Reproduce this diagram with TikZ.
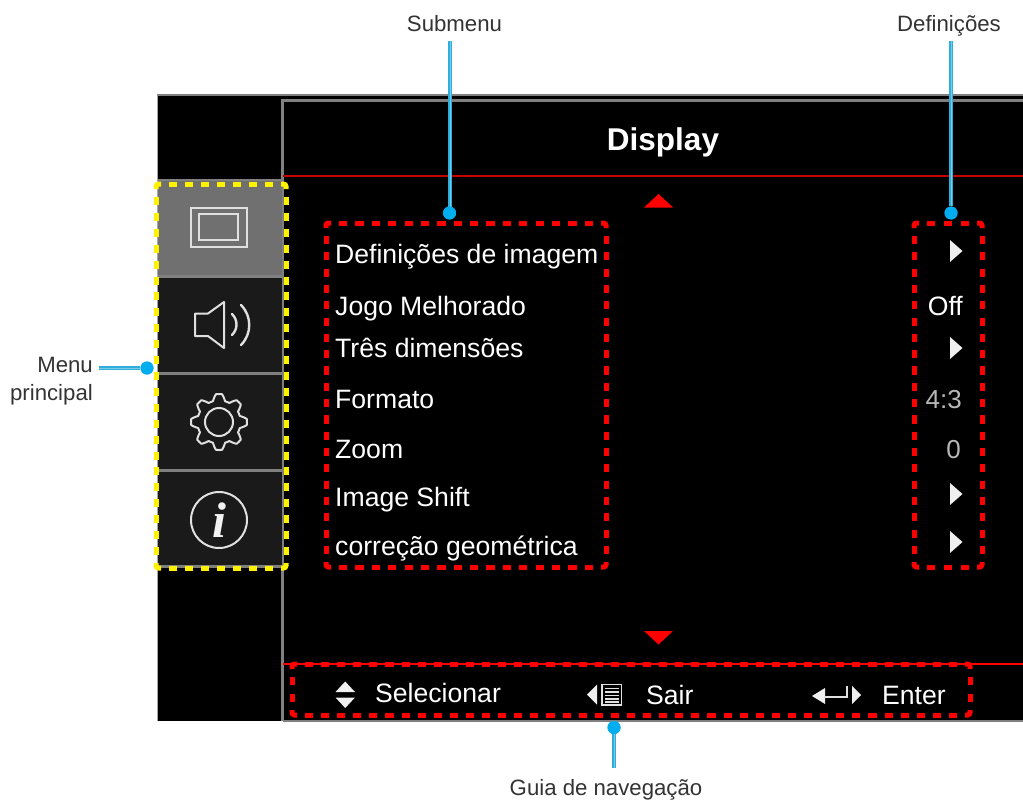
\documentclass[tikz,border=0pt]{standalone}
\usepackage{fontspec}
\setmainfont{Liberation Sans}
\newfontfamily\iserif{Liberation Serif}
\usetikzlibrary{calc}
\definecolor{callout}{HTML}{00AEEF}
\definecolor{leader}{HTML}{2FAEDC}
\definecolor{framegray}{HTML}{808080}
\definecolor{tabgray}{HTML}{707070}
\definecolor{tabdark}{HTML}{1A1A1A}
\definecolor{labelgray}{HTML}{333333}
\tikzset{
 x=1pt,y=-1pt,
 dot/.style={circle,fill=callout,inner sep=0pt,minimum size=13pt},
 leaderline/.style={draw=leader,line width=3.6pt},
 leadercore/.style={draw=white!35!leader,line width=1pt},
 callouttext/.style={text=labelgray,font=\fontsize{22.2}{27}\selectfont,inner sep=0pt},
 menutext/.style={text=white,font=\fontsize{26.6}{30}\selectfont,inner sep=0pt,anchor=base west},
 valtext/.style={text=white,font=\fontsize{26.6}{30}\selectfont,inner sep=0pt,anchor=base east},
 thintext/.style={text=white!72!black,font=\fontsize{26}{30}\selectfont,inner sep=0pt,anchor=base east},
 icon/.style={draw=white!88!black,line width=2pt},
 wtri/.style={fill=white!94!black},
 rtri/.style={fill=red},
 tabsep/.style={draw=framegray,line width=3pt},
}
% dashed frame: colour, x0, y0, x1, y1
\newcommand{\dashframe}[5]{%
 \draw[#1,line width=5pt,rounded corners=2.5pt] (#2,#3+5) -- (#2,#3) -- (#2+5,#3);
 \draw[#1,line width=5pt,rounded corners=2.5pt] (#4-5,#3) -- (#4,#3) -- (#4,#3+5);
 \draw[#1,line width=5pt,rounded corners=2.5pt] (#2,#5-5) -- (#2,#5) -- (#2+5,#5);
 \draw[#1,line width=5pt,rounded corners=2.5pt] (#4-5,#5) -- (#4,#5) -- (#4,#5-5);
 \pgfmathsetmacro{\lh}{#4-#2-26}
 \pgfmathsetmacro{\lv}{#5-#3-26}
 \pgfmathsetmacro{\onh}{\lh/(2*round((\lh+8)/16)-1)}
 \pgfmathsetmacro{\onv}{\lv/(2*round((\lv+8)/16)-1)}
 \draw[#1,line width=5pt,dash pattern=on \onh pt off \onh pt] (#2+13,#3) -- (#4-13,#3);
 \draw[#1,line width=5pt,dash pattern=on \onh pt off \onh pt] (#2+13,#5) -- (#4-13,#5);
 \draw[#1,line width=5pt,dash pattern=on \onv pt off \onv pt] (#2,#3+13) -- (#2,#5-13);
 \draw[#1,line width=5pt,dash pattern=on \onv pt off \onv pt] (#4,#3+13) -- (#4,#5-13);
}
\begin{document}
\begin{tikzpicture}
\useasboundingbox (0,0) rectangle (1023,800);
\fill[white] (0,0) rectangle (1023,800);
% panel
\fill[black] (157,95) rectangle (1023,721);
\draw[framegray,line width=1.6pt] (157,95) -- (1023,95);
\draw[black!35,line width=0.8pt] (157,721) -- (157,95);
\draw[framegray,line width=2.4pt] (282.5,721) -- (282.5,100.5) -- (1023,100.5);
\draw[red!78!black,line width=2.4pt] (283,176) -- (1023,176);
\draw[red,line width=2pt] (283,664) -- (1023,664);
\draw[framegray,line width=1.2pt] (283,721) -- (1023,721);
% tabs
\fill[tabgray] (158,180) rectangle (283,276);
\fill[tabdark] (158,276) rectangle (283,567);
\draw[framegray,line width=2pt] (158,180) -- (283,180);
\draw[tabsep] (158,276) -- (283,276);
\draw[tabsep] (158,373) -- (283,373);
\draw[tabsep] (158,470) -- (283,470);
\draw[tabsep] (158,566.5) -- (283,566.5);
\draw[framegray,line width=2pt] (282.5,180) -- (282.5,567);
% display icon
\draw[icon] (191,208) rectangle (247,247);
\draw[icon] (199,214) rectangle (238,240);
% speaker icon
\draw[icon,line join=round] (195,313.5) -- (208,313.5) -- (224,302) -- (224,348) -- (208,336) -- (195,336) -- cycle;
\draw[icon,line width=2.4pt,line cap=round] (232,314) .. controls (238,320) and (238,329) .. (232,335);
\draw[icon,line width=2.4pt,line cap=round] (241,305) .. controls (252,316) and (252,334) .. (241,345);
% gear icon
\draw[icon,line join=round] plot[domain=0:360,samples=241,smooth] ({219+(24.8+3.2*max(-1,min(1,1.5*cos(8*\x))))*cos(\x)},{422+(24.8+3.2*max(-1,min(1,1.5*cos(8*\x))))*sin(\x)}) -- cycle;
\draw[icon] (219,422) circle[radius=14];
% info icon
\draw[icon] (219,520) circle[radius=28];
\node[text=white!95!black,font=\iserif\bfseries\itshape\fontsize{50}{50}\selectfont,inner sep=0pt,anchor=base] (infoi) at (219,537) {i};
% title
\node[text=white,font=\bfseries\fontsize{31.5}{36}\selectfont,inner sep=0pt,anchor=base] (title) at (663,150) {Display};
% arrows
\fill[rtri] (644,207.5) -- (673,207.5) -- (658.5,194) -- cycle;
\fill[rtri] (644,631) -- (673,631) -- (658.5,644.5) -- cycle;
% submenu
\node[menutext] (m1) at (335,263) {Definições de imagem};
\node[menutext] (m2) at (335,315) {Jogo Melhorado};
\node[menutext] (m3) at (335,357) {Três dimensões};
\node[menutext] (m4) at (335,408) {Formato};
\node[menutext] (m5) at (335,458) {Zoom};
\node[menutext] (m6) at (335,506) {Image Shift};
\node[menutext] (m7) at (335,555) {correção geométrica};
% values
\fill[wtri] (950,240) -- (962.5,251) -- (950,262) -- cycle;
\node[valtext] (v2) at (963,315) {Off};
\fill[wtri] (950,337) -- (962.5,348) -- (950,359) -- cycle;
\node[thintext] (v4) at (962,408) {4:3};
\node[thintext] (v5) at (961,458) {0};
\fill[wtri] (950,483) -- (962.5,494) -- (950,505) -- cycle;
\fill[wtri] (950,531) -- (962.5,542) -- (950,553) -- cycle;
% nav
\fill[wtri] (335.5,692) -- (355,692) -- (345.2,681.5) -- cycle;
\fill[wtri] (335.5,697.5) -- (355,697.5) -- (345.2,708) -- cycle;
\node[menutext] (n1) at (375,702) {Selecionar};
\fill[wtri] (597,684.5) -- (597,704.5) -- (587,694.5) -- cycle;
\draw[icon,line width=1.4pt] (602,684.5) rectangle (621.5,705);
\foreach \ly in {688.5,692,695.5,699,702}{\draw[icon,line width=1.4pt] (605,\ly) -- (618.5,\ly);}
\node[menutext] (n2) at (646,704) {Sair};
\fill[wtri] (812,696) -- (825,688) -- (825,704) -- cycle;
\draw[icon,line width=2pt] (824,696.5) -- (846.5,696.5) -- (846.5,686);
\fill[wtri] (852,686) -- (861,695) -- (852,704) -- cycle;
\node[menutext] (n3) at (882,704) {Enter};
% dashed frames
\dashframe{yellow}{156}{184}{286}{568}
\dashframe{red}{326}{223}{606}{567}
\dashframe{red}{914}{223}{982}{567}
\dashframe{red}{292}{664}{970}{715}
% callouts
\node[callouttext,anchor=base] (lsub) at (454.5,32) {Submenu};
\node[callouttext,anchor=base] (ldef) at (949,32) {Definições};
\node[callouttext,anchor=base] (lguia) at (606,795) {Guia de navegação};
\node[callouttext,anchor=base east] (lmenu) at (93,372) {Menu};
\node[callouttext,anchor=base east] (lprin) at (93,400) {principal};
\node[dot] (dsub) at (449.5,213) {};
\node[dot] (ddef) at (951,213) {};
\node[dot] (dguia) at (614,727.5) {};
\node[dot] (dmenu) at (147,368) {};
\coordinate (csub) at (450,41);
\coordinate (cdef) at (951,41);
\coordinate (cguia) at (614,768);
\coordinate (cmenu) at (99,368);
\draw[leaderline] (csub) -- (csub |- dsub);
\draw[leaderline] (cdef) -- (ddef);
\draw[leaderline] (cguia) -- (dguia);
\draw[leaderline] (cmenu) -- (dmenu);
\draw[leadercore] (cmenu) -- (dmenu);
\draw[leadercore] (csub) -- (csub |- dsub);
\draw[leadercore] (cdef) -- (ddef);
\draw[leadercore] (cguia) -- (dguia);
\node[dot] at (dsub) {};
\node[dot] at (ddef) {};
\node[dot] at (dguia) {};
\node[dot] at (dmenu) {};
\end{tikzpicture}
\end{document}
